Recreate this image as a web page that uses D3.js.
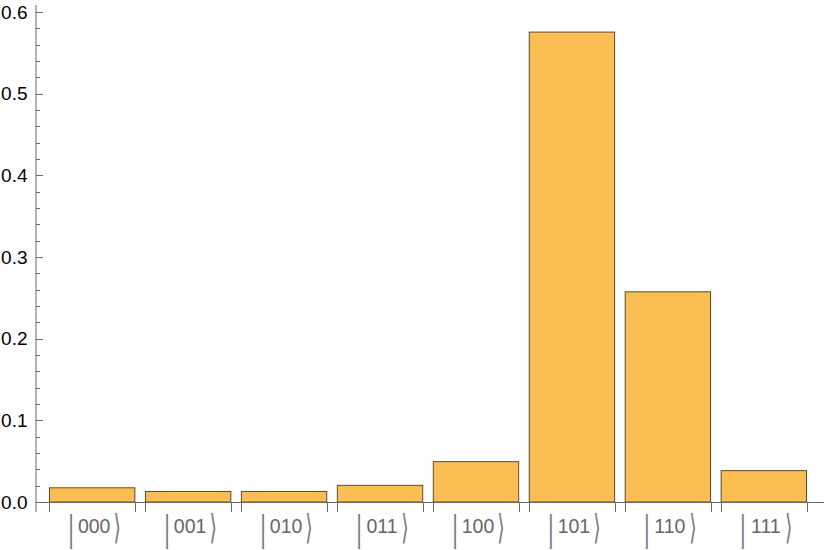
<!DOCTYPE html>
<html>
<head>
<meta charset="utf-8">
<script src="https://cdn.jsdelivr.net/npm/d3@7"></script>
<style>
    body { margin: 0; background: #fff; }
    svg { display: block; }
</style>
</head>
<body>
<svg id="chart" width="840" height="550"></svg>
<script>
const states = ["000", "001", "010", "011", "100", "101", "110", "111"];
const probabilities = [0.018, 0.0135, 0.0135, 0.021, 0.050, 0.576, 0.258, 0.039];
const majorTicks = [0, 0.1, 0.2, 0.3, 0.4, 0.5, 0.6];
const minorTicks = d3.range(0, 0.6, 0.02).filter(v => Math.abs(v * 10 - Math.round(v * 10)) > 1e-6);

const svg = d3.select('#chart');

const AXIS_X = 36;
const AXIS_COLOR = '#6b6b6b';
const BAR_FILL = '#fabe53';
const BAR_STROKE = '#5b4a2c';
const FONT = 'Liberation Sans, Arial, sans-serif';

const x = d3.scaleBand()
    .domain(states)
    .range([49, 807])
    .paddingInner(0.1)
    .paddingOuter(0);

const y = d3.scaleLinear()
    .domain([0, 0.6])
    .range([502, 12]);

// bars
svg.append('g')
    .selectAll('rect')
    .data(states)
    .join('rect')
    .attr('x', d => x(d) + 0.5)
    .attr('y', (d, i) => y(probabilities[i]) + 0.5)
    .attr('width', x.bandwidth() - 1)
    .attr('height', (d, i) => y(0) - y(probabilities[i]) - 0.5)
    .attr('fill', BAR_FILL)
    .attr('stroke', BAR_STROKE)
    .attr('stroke-width', 1);

// y axis
const yAxis = svg.append('g');
yAxis.append('line')
    .attr('x1', AXIS_X).attr('x2', AXIS_X)
    .attr('y1', 5).attr('y2', 512)
    .attr('stroke', AXIS_COLOR);

yAxis.selectAll('.major')
    .data(majorTicks)
    .join('line')
    .attr('class', 'major')
    .attr('x1', AXIS_X).attr('x2', AXIS_X + 7)
    .attr('y1', d => Math.round(y(d)) + 0.5)
    .attr('y2', d => Math.round(y(d)) + 0.5)
    .attr('stroke', AXIS_COLOR);

yAxis.selectAll('.minor')
    .data(minorTicks)
    .join('line')
    .attr('class', 'minor')
    .attr('x1', AXIS_X).attr('x2', AXIS_X + 4)
    .attr('y1', d => Math.round(y(d)) + 0.5)
    .attr('y2', d => Math.round(y(d)) + 0.5)
    .attr('stroke', AXIS_COLOR);

yAxis.selectAll('text')
    .data(majorTicks)
    .join('text')
    .text(d => d3.format('.1f')(d))
    .attr('x', 27.5)
    .attr('y', d => y(d))
    .attr('dy', '0.35em')
    .attr('text-anchor', 'end')
    .attr('font-family', FONT)
    .attr('font-size', 19)
    .attr('fill', '#000');

// x axis
const xAxis = svg.append('g');
xAxis.append('line')
    .attr('x1', AXIS_X).attr('x2', 824)
    .attr('y1', Math.round(y(0)) + 0.5).attr('y2', Math.round(y(0)) + 0.5)
    .attr('stroke', AXIS_COLOR);

const edges = [];
states.forEach(s => { edges.push(x(s)); edges.push(x(s) + x.bandwidth()); });
xAxis.selectAll('.edge')
    .data(edges)
    .join('line')
    .attr('class', 'edge')
    .attr('x1', d => Math.round(d) + 0.5).attr('x2', d => Math.round(d) + 0.5)
    .attr('y1', y(0)).attr('y2', y(0) + 10)
    .attr('stroke', AXIS_COLOR);

// ket labels
const labels = xAxis.selectAll('.ket')
    .data(states)
    .join('g')
    .attr('class', 'ket')
    .attr('transform', d => `translate(${x(d) + x.bandwidth() / 2 + 2},0)`);

labels.append('text')
    .text(d => d)
    .attr('x', 0)
    .attr('y', 533)
    .attr('text-anchor', 'middle')
    .attr('font-family', FONT)
    .attr('font-size', 19.5)
    .attr('fill', '#666');

labels.append('text')
    .text('|')
    .attr('transform', 'translate(-23,541) scale(1,1.8)')
    .attr('text-anchor', 'middle')
    .attr('font-family', FONT)
    .attr('font-size', 20)
    .attr('fill', '#777');

labels.append('text')
    .text('⟩')
    .attr('transform', 'translate(23,539) scale(1,1.8)')
    .attr('text-anchor', 'middle')
    .attr('font-family', 'DejaVu Sans, sans-serif')
    .attr('font-size', 19)
    .attr('fill', '#777');
</script>
</body>
</html>
